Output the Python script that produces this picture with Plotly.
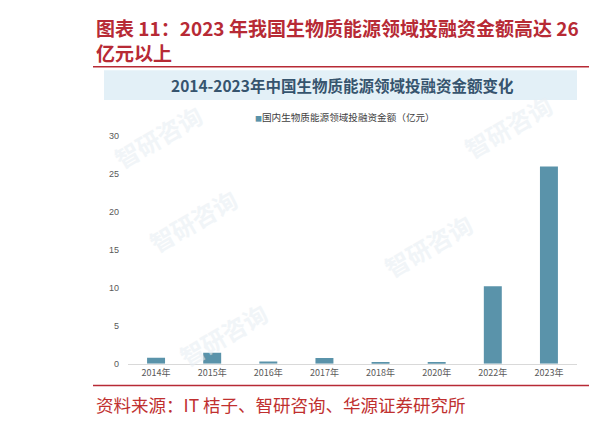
import plotly.graph_objects as go

W, H = 614, 421

categories = ["2014年", "2015年", "2016年", "2017年", "2018年", "2020年", "2022年", "2023年"]
values = [0.8, 1.45, 0.3, 0.75, 0.22, 0.22, 10.2, 26.0]
y_ticks = [0, 5, 10, 15, 20, 25, 30]

heading_1 = "图表 11：2023 年我国生物质能源领域投融资金额高达 26"
heading_2 = "亿元以上"
chart_title = "2014-2023年中国生物质能源领域投融资金额变化"
legend_text = "国内生物质能源领域投融资金额（亿元）"
source_text = "资料来源：IT 桔子、智研咨询、华源证券研究所"
watermark = "智研咨询"

BAR = "#5a93aa"
RED = "#b72a35"
CJK = "Noto Sans CJK SC"


def px(x):
    return x / W


def py(y):
    return 1 - y / H


fig = go.Figure()
fig.add_trace(go.Bar(
    x=categories, y=values, marker=dict(color=BAR, line=dict(width=0)),
    width=0.32, showlegend=False, hoverinfo="x+y",
))

shapes = [
    dict(type="rect", xref="paper", yref="paper", x0=px(96), x1=px(569), y0=py(93), y1=py(63),
         fillcolor="#e3f0f7", line=dict(width=0), layer="below"),
    dict(type="line", xref="paper", yref="paper", x0=px(85), x1=px(581), y0=py(59.5), y1=py(59.5),
         line=dict(color=RED, width=1.6)),
    dict(type="line", xref="paper", yref="paper", x0=px(85), x1=px(581), y0=py(382), y1=py(382),
         line=dict(color=RED, width=1.6)),
    dict(type="line", xref="paper", yref="paper", x0=px(608), x1=px(620), y0=py(59.5), y1=py(59.5),
         line=dict(color=RED, width=1.6)),
    dict(type="line", xref="paper", yref="paper", x0=px(609), x1=px(620), y0=py(382), y1=py(382),
         line=dict(color=RED, width=1.6)),
]

ann = []


def add(text, x, y, size, color, xanchor="left", family=CJK, weight="normal", angle=0, opacity=1):
    ann.append(dict(text=text, x=px(x), y=py(y), xref="paper", yref="paper", showarrow=False,
                    xanchor=xanchor, yanchor="middle", textangle=angle, opacity=opacity,
                    font=dict(family=family, size=size, color=color, weight=weight)))


# faint watermarks
for (wx, wy) in [(185, 215), (420, 240), (215, 330), (500, 120), (150, 130)]:
    add(watermark, wx, wy, 24, "#e9eff4", xanchor="center", weight="bold", angle=-30, opacity=0.6)

add(heading_1, 86, 20, 19, RED, weight="bold")
add(heading_2, 86, 45, 19, RED, weight="bold")
add(chart_title, 334, 78, 15.5, "#36546e", xanchor="center", weight="bold")
add('<span style="color:%s;font-size:7px">■</span>%s' % (BAR, legend_text), 337, 110, 9.6, "#404040",
    xanchor="center")
add(source_text, 86, 401, 17.5, "#c0302f")

fig.update_layout(
    width=W, height=H, margin=dict(l=0, r=0, t=0, b=0),
    paper_bgcolor="white", plot_bgcolor="rgba(0,0,0,0)",
    shapes=shapes, annotations=ann,
    xaxis=dict(domain=[px(120), px(569)], range=[-0.5, 7.5], showline=True, linecolor="#d9d9d9",
               linewidth=1, ticks="", showgrid=False, zeroline=False,
               tickfont=dict(family=CJK, size=9, color="#595959")),
    yaxis=dict(domain=[py(360), py(122)], range=[0, 31], tickvals=y_ticks, showline=False,
               showgrid=False, zeroline=False, ticks="", ticklabelstandoff=8,
               tickfont=dict(family="Liberation Sans", size=9, color="#595959")),
)

fig.write_html("out.html")
